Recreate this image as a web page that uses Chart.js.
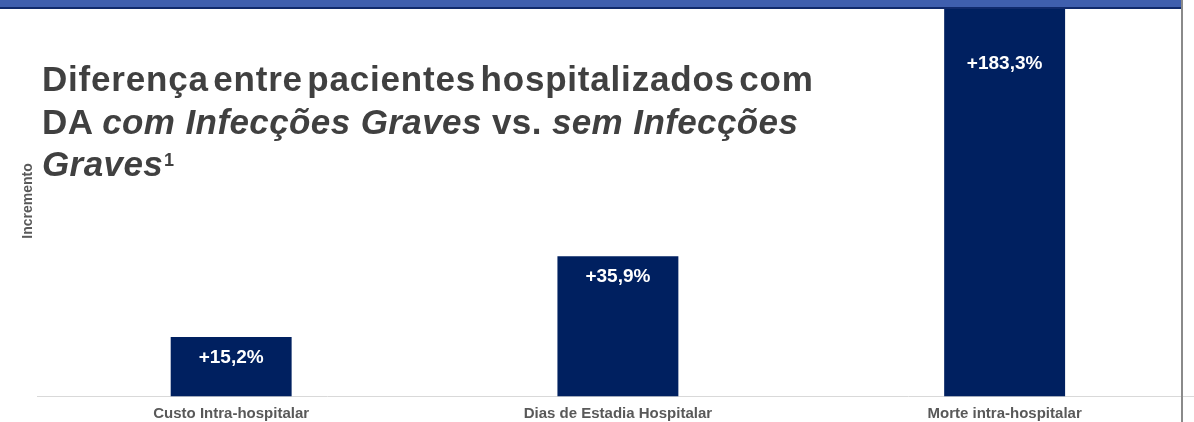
<!DOCTYPE html>
<html lang="pt">
<head>
<meta charset="utf-8">
<title>Diferença entre pacientes hospitalizados com DA</title>
<script src="https://cdn.jsdelivr.net/npm/chart.js@4/dist/chart.umd.min.js"></script>
<style>
  html, body { margin: 0; padding: 0; background: #ffffff; overflow: hidden; }
  body { width: 1194px; height: 422px; position: relative; }
  #wrap { position: absolute; left: 0; top: 0; width: 1200px; height: 431px; }
  #topBand {
    position: absolute; left: 0; top: 0; width: 1181px; height: 7px;
    background: #3f5fae; border-bottom: 2px solid #102a6c; z-index: 3;
  }
  #sideRule {
    position: absolute; left: 1181px; top: 0; width: 2px; height: 422px;
    background: #8a8a8a; z-index: 3;
  }
  #heading {
    position: absolute; left: 42px; top: 58px; z-index: 2;
    font-family: "Liberation Sans", Arial, sans-serif; font-weight: bold;
    font-size: 35px; line-height: 42.5px; color: #404040; white-space: nowrap;
    letter-spacing: 0.4px;
  }
  #heading .tight { letter-spacing: 0.8px; word-spacing: -6px; }
  #heading i { font-style: italic; }
  #heading .ref { font-size: 18px; position: relative; top: -10px; margin-left: 1px; }
</style>
</head>
<body>
<div id="topBand"></div>
<div id="sideRule"></div>
<div id="heading"><span class="tight">Diferença entre pacientes hospitalizados com</span><br>DA <i>com Infecções Graves</i> vs. <i>sem Infecções</i><br><i>Graves</i><span class="ref">1</span></div>
<div id="wrap"><canvas id="chart"></canvas></div>
<script>
// Outcome categories and the increase (%) seen with serious infections
const categories = ['Custo Intra-hospitalar', 'Dias de Estadia Hospitalar', 'Morte intra-hospitalar'];
const increments = [15.2, 35.9, 183.3];
const axisTitle = 'Incremento';
const yMax = 100;

const fontFamily = '"Liberation Sans", Arial, sans-serif';

function formatPct(v) {
  return '+' + v.toFixed(1).replace('.', ',') + '%';
}

// Writes each value inside its bar, just below the (visible) top edge
const barValueLabels = {
  id: 'barValueLabels',
  afterDatasetsDraw(chart) {
    const ctx = chart.ctx;
    const area = chart.chartArea;
    const meta = chart.getDatasetMeta(0);
    ctx.save();
    ctx.fillStyle = '#ffffff';
    ctx.font = 'bold 19px ' + fontFamily;
    ctx.textAlign = 'center';
    ctx.textBaseline = 'middle';
    meta.data.forEach((bar, i) => {
      const y = Math.max(bar.y, area.top + 37) + 21;
      ctx.fillText(formatPct(chart.data.datasets[0].data[i]), bar.x, y);
    });
    ctx.restore();
  }
};

new Chart(document.getElementById('chart'), {
  type: 'bar',
  data: {
    labels: categories,
    datasets: [{
      data: increments,
      backgroundColor: '#002060',
      borderWidth: 0,
      categoryPercentage: 1,
      barPercentage: 0.3127
    }]
  },
  options: {
    responsive: true,
    maintainAspectRatio: false,
    animation: false,
    layout: { padding: { left: 15, right: 2, top: 5.5, bottom: 0.5 } },
    plugins: {
      legend: { display: false },
      tooltip: { enabled: false }
    },
    scales: {
      x: {
        grid: { display: false, drawTicks: false },
        border: { display: true, color: '#d9d9d9', width: 1 },
        ticks: {
          padding: 8,
          color: '#595959',
          font: { family: fontFamily, size: 15, weight: 'bold' },
          maxRotation: 0
        }
      },
      y: {
        min: 0,
        max: yMax,
        grid: { display: false, drawTicks: false },
        border: { display: false },
        ticks: { display: false },
        title: {
          display: true,
          text: axisTitle,
          color: '#595959',
          padding: { top: 5, bottom: 1 },
          font: { family: fontFamily, size: 14, weight: 'bold' }
        }
      }
    }
  },
  plugins: [barValueLabels]
});
</script>
</body>
</html>
